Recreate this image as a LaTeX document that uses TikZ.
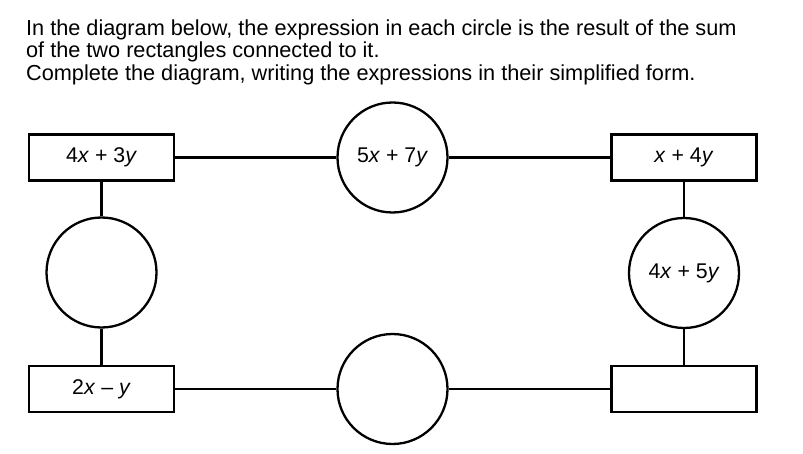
\documentclass[tikz,border=0pt]{standalone}
\usepackage{fontspec}
\setmainfont{Liberation Sans}
\newcommand{\vx}{\textit{x}}
\newcommand{\vy}{\textit{y}}
\begin{document}
\begin{tikzpicture}[x=1pt,y=-1pt,
    line width=2.3pt,
    box/.style={draw,rectangle,minimum width=145pt,minimum height=46pt,inner sep=0pt,font=\fontsize{21.3}{25}\selectfont},
    ring/.style={draw,circle,minimum size=110pt,inner sep=0pt,font=\fontsize{21.3}{25}\selectfont},
    intro/.style={anchor=base west,inner sep=0pt,font=\fontsize{21.7}{25}\selectfont}]
  \useasboundingbox (0,0) rectangle (803,454);

  % Instructions
  \node[intro] (lineA) at (25,35.5) {In the diagram below, the expression in each circle is the result of the sum};
  \node[intro] (lineB) at (25,58) {of the two rectangles connected to it.};
  \node[intro] (lineC) at (25,80.5) {Complete the diagram, writing the expressions in their simplified form.};

  % Rectangles
  \node[box] (topleft) at (101.5,157.5) {4\vx{} + 3\vy};
  \node[box] (topright) at (684,157.5) {\vx{} + 4\vy};
  \node[box] (botleft) at (101.5,389) {2\vx{} -- \vy};
  \node[box] (botright) at (684,389) {};

  % Circles
  \node[ring] (topmid) at (392.5,157.5) {5\vx{} + 7\vy};
  \node[ring] (leftmid) at (101.5,272.5) {};
  \node[ring] (rightmid) at (684,273) {4\vx{} + 5\vy};
  \node[ring] (botmid) at (392.5,389) {};

  % Connections
  \draw (topleft) -- (topmid) -- (topright);
  \draw (botleft) -- (botmid) -- (botright);
  \draw (topleft) -- (leftmid) -- (botleft);
  \draw (topright) -- (rightmid) -- (botright);
\end{tikzpicture}
\end{document}
